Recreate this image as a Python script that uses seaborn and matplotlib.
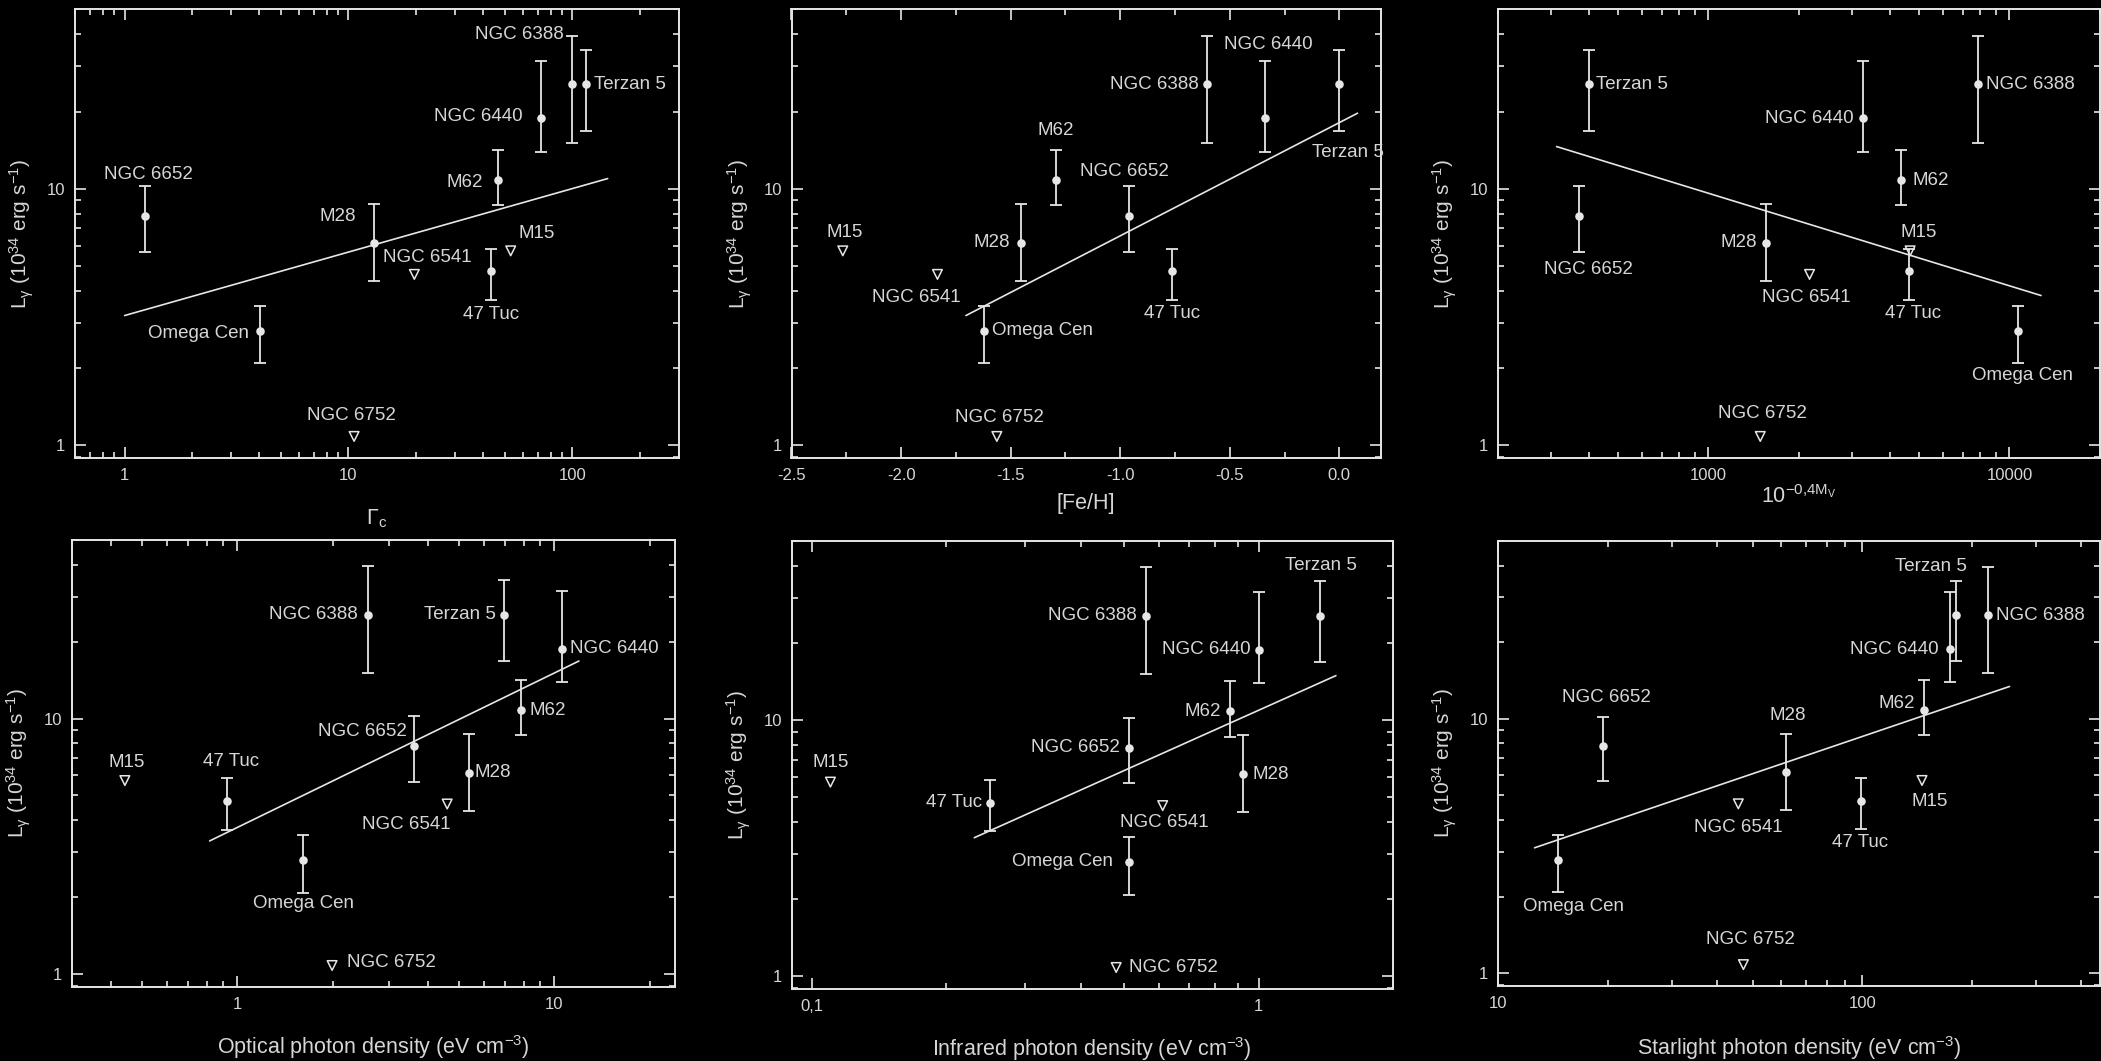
import numpy as np
import pandas as pd
import matplotlib
matplotlib.use("Agg")
import matplotlib.pyplot as plt
import matplotlib.ticker as mticker
import seaborn as sns

# === dane: klastry kuliste, L_gamma (1e34 erg/s) ===
names = ["47 Tuc", "Omega Cen", "M62", "NGC 6388", "M28", "NGC 6652",
         "NGC 6440", "Terzan 5", "M15", "NGC 6541", "NGC 6752"]
upper_limit = [False, False, False, False, False, False, False, False, True, True, True]
l_gamma = [4.76, 2.79, 10.8, 25.5, 6.15, 7.8, 18.8, 25.5, 5.72, 4.63, 1.08]
l_gamma_hi = [5.84, 3.50, 14.2, 39.4, 8.73, 10.2, 31.5, 34.9, np.nan, np.nan, np.nan]
l_gamma_lo = [3.68, 2.08, 8.6, 15.1, 4.36, 5.67, 13.9, 16.8, np.nan, np.nan, np.nan]

gamma_c = [43.2, 4.03, 46.5, 100, 13.0, 1.23, 72.6, 115, 53.1, 19.7, 10.6]
fe_h = [-0.765, -1.622, -1.294, -0.604, -1.453, -0.962, -0.341, 0.0, -2.266, -1.834, -1.563]
lum_v = [4645, 10720, 4357, 7890, 1549, 372, 3267, 401, 4680, 2168, 1487]
optical = [0.931, 1.61, 7.87, 2.58, 5.37, 3.62, 10.57, 6.91, 0.442, 4.59, 1.99]
infrared = [0.251, 0.512, 0.861, 0.560, 0.923, 0.512, 1.0, 1.37, 0.110, 0.610, 0.480]
starlight = [99, 14.6, 148, 222, 61.9, 19.4, 174, 181, 146, 45.7, 47.2]

# proste dopasowania (końce linii)
fit_gamma_c = ([1.0, 144], [3.2, 10.95])
fit_fe_h = ([-1.704, 0.083], [3.2, 19.7])
fit_lum_v = ([313, 12740], [14.6, 3.83])
fit_optical = ([0.818, 11.95], [3.32, 16.8])
fit_infrared = ([0.231, 1.49], [3.47, 14.9])
fit_starlight = ([12.6, 254], [3.11, 13.4])

xlabels = [r"$\Gamma_c$", "[Fe/H]", r"10$^{-0{,}4M_V}$",
           r"Optical photon density (eV cm$^{-3}$)",
           r"Infrared photon density (eV cm$^{-3}$)",
           r"Starlight photon density (eV cm$^{-3}$)"]
ylabel = r"L$_\gamma$ (10$^{34}$ erg s$^{-1}$)"

# === układ (piksele) i przesunięcia podpisów ===
W, H = 2101, 1061
boxes = [(75, 679, 9.5, 458), (791.5, 1381, 9.5, 458), (1498, 2100, 9.5, 458),
         (71.5, 675, 540, 987), (791.5, 1393, 541, 989), (1498, 2100, 541, 986)]
xlims = [(0.6, 300), (-2.5, 0.19), (200, 20000), (0.3, 24), (0.09, 2.0), (10, 450)]
xlabel_top = [0.111, 0.078, 0.06, 0.103, 0.103, 0.108]

offsets = [
    {"NGC 6652": (4, 42, "center"), "Omega Cen": (-11, -3, "right"), "M28": (-36, 26, "center"),
     "NGC 6541": (13, 17, "center"), "NGC 6752": (-3, 21, "center"), "47 Tuc": (0, -43, "center"),
     "M62": (-15, -2, "right"), "M15": (26, 17, "center"), "NGC 6440": (-18, 2, "right"),
     "NGC 6388": (-8, 50, "right"), "Terzan 5": (8, 0, "left")},
    {"M15": (2, 18, "center"), "NGC 6541": (-21, -23, "center"), "NGC 6752": (3, 19, "center"),
     "Omega Cen": (8, 0, "left"), "M28": (-11, 0, "right"), "M62": (0, 50, "center"),
     "NGC 6652": (-4, 45, "center"), "47 Tuc": (0, -42, "center"), "NGC 6388": (-8, 0, "right"),
     "NGC 6440": (4, 74, "center"), "Terzan 5": (9, -68, "center")},
    {"Terzan 5": (7, 0, "left"), "NGC 6652": (9, -53, "center"), "M28": (-9, 0, "right"),
     "NGC 6541": (-3, -23, "center"), "NGC 6752": (2, 23, "center"), "NGC 6440": (-10, 0, "right"),
     "M62": (12, 0, "left"), "M15": (9, 18, "center"), "47 Tuc": (4, -42, "center"),
     "NGC 6388": (8, 0, "left"), "Omega Cen": (4, -45, "center")},
    {"M15": (2, 18, "center"), "47 Tuc": (4, 39, "center"), "Omega Cen": (1, -43, "center"),
     "NGC 6752": (15, 3, "left"), "NGC 6388": (-10, 0, "right"), "NGC 6652": (-8, 15, "right"),
     "NGC 6541": (-41, -20, "center"), "M28": (6, 0, "left"), "Terzan 5": (-8, 0, "right"),
     "M62": (8, 0, "left"), "NGC 6440": (8, 0, "left")},
    {"M15": (0, 20, "center"), "47 Tuc": (-8, 0, "right"), "NGC 6752": (13, 0, "left"),
     "Omega Cen": (-16, 0, "right"), "NGC 6652": (-9, 0, "right"), "NGC 6388": (-9, 0, "right"),
     "NGC 6541": (2, -17, "center"), "M62": (-9, 0, "right"), "M28": (9, 0, "left"),
     "NGC 6440": (-8, 0, "right"), "Terzan 5": (1, 50, "center")},
    {"Omega Cen": (16, -47, "center"), "NGC 6652": (4, 49, "center"), "NGC 6541": (0, -24, "center"),
     "NGC 6752": (7, 25, "center"), "M28": (1, 57, "center"), "47 Tuc": (0, -42, "center"),
     "M62": (-9, 7, "right"), "M15": (8, -21, "center"), "NGC 6440": (-11, 0, "right"),
     "Terzan 5": (-25, 49, "center"), "NGC 6388": (8, 0, "left")},
]

FG = "#e6e6e6"
TXT = "#d6d6d6"
BG = "black"

sns.set_theme(style="ticks", rc={
    "figure.facecolor": BG, "axes.facecolor": BG, "axes.edgecolor": FG,
    "axes.linewidth": 1.4, "text.color": TXT, "axes.labelcolor": TXT,
    "xtick.color": FG, "ytick.color": FG, "axes.unicode_minus": False,
    "mathtext.default": "regular",
})
plt.rcParams["font.family"] = ["Liberation Sans", "DejaVu Sans"]

df = pd.DataFrame({"name": names, "upper": upper_limit, "ly": l_gamma,
                   "hi": l_gamma_hi, "lo": l_gamma_lo,
                   "gamma_c": gamma_c, "fe_h": fe_h, "lum_v": lum_v,
                   "optical": optical, "infrared": infrared, "starlight": starlight})
xcols = ["gamma_c", "fe_h", "lum_v", "optical", "infrared", "starlight"]
fits = [fit_gamma_c, fit_fe_h, fit_lum_v, fit_optical, fit_infrared, fit_starlight]

fig = plt.figure(figsize=(W / 100, H / 100), dpi=100)


def fmt_num(v, pos=None):
    return f"{v:g}"


def fmt_comma(v, pos=None):
    return f"{v:g}".replace(".", ",")


for i, col in enumerate(xcols):
    L, R, T, B = boxes[i]
    ax = fig.add_axes([L / W, 1 - B / H, (R - L) / W, (B - T) / H])
    det = df[~df["upper"]]
    ul = df[df["upper"]]

    ax.errorbar(det[col], det["ly"], yerr=[det["ly"] - det["lo"], det["hi"] - det["ly"]],
                fmt="none", ecolor=FG, elinewidth=1.3, capsize=4.3, capthick=1.3, zorder=2)
    sns.scatterplot(data=det, x=col, y="ly", ax=ax, color=FG, s=38, edgecolor=FG,
                    linewidth=0, zorder=3, legend=False)
    sns.scatterplot(data=ul, x=col, y="ly", ax=ax, marker="v", s=48, facecolor="none",
                    edgecolor=FG, linewidth=1.1, zorder=3, legend=False)
    sns.lineplot(x=fits[i][0], y=fits[i][1], ax=ax, color=FG, lw=1.2, zorder=1)

    for _, r in df.iterrows():
        dx, dy, ha = offsets[i][r["name"]]
        ax.annotate(r["name"], (r[col], r["ly"]), xytext=(dx * 0.72, dy * 0.72),
                    textcoords="offset points", ha=ha, va="center", color=TXT, fontsize=13.5)

    ax.set_yscale("log")
    ax.set_ylim(0.89, 50)
    ax.yaxis.set_major_locator(mticker.FixedLocator([1, 10]))
    ax.yaxis.set_major_formatter(mticker.FuncFormatter(fmt_num))
    ax.yaxis.set_minor_locator(mticker.LogLocator(base=10, subs=np.arange(2, 10)))
    ax.yaxis.set_minor_formatter(mticker.NullFormatter())

    if col == "fe_h":
        ax.set_xlim(*xlims[i])
        ax.xaxis.set_major_locator(mticker.MultipleLocator(0.5))
        ax.xaxis.set_minor_locator(mticker.MultipleLocator(0.25))
        ax.xaxis.set_major_formatter(mticker.FormatStrFormatter("%.1f"))
    else:
        ax.set_xscale("log")
        ax.set_xlim(*xlims[i])
        ax.xaxis.set_major_locator(mticker.LogLocator(base=10))
        ax.xaxis.set_minor_locator(mticker.LogLocator(base=10, subs=np.arange(2, 10)))
        ax.xaxis.set_major_formatter(mticker.FuncFormatter(fmt_comma if col == "infrared" else fmt_num))
        ax.xaxis.set_minor_formatter(mticker.NullFormatter())

    ax.tick_params(which="both", direction="in", top=True, right=True,
                   labelcolor=TXT, labelsize=12, width=1.2)
    ax.tick_params(which="major", length=8, pad=7)
    ax.tick_params(which="minor", length=4.5)

    ax.set_xlabel(xlabels[i], fontsize=15.5, color=TXT)
    ax.set_ylabel(ylabel, fontsize=15, color=TXT, va="center")
    ax.xaxis.set_label_coords(0.5, -xlabel_top[i])
    ax.yaxis.set_label_coords(-0.088, 0.5)

fig.savefig("out.png", dpi=100, facecolor=BG)
